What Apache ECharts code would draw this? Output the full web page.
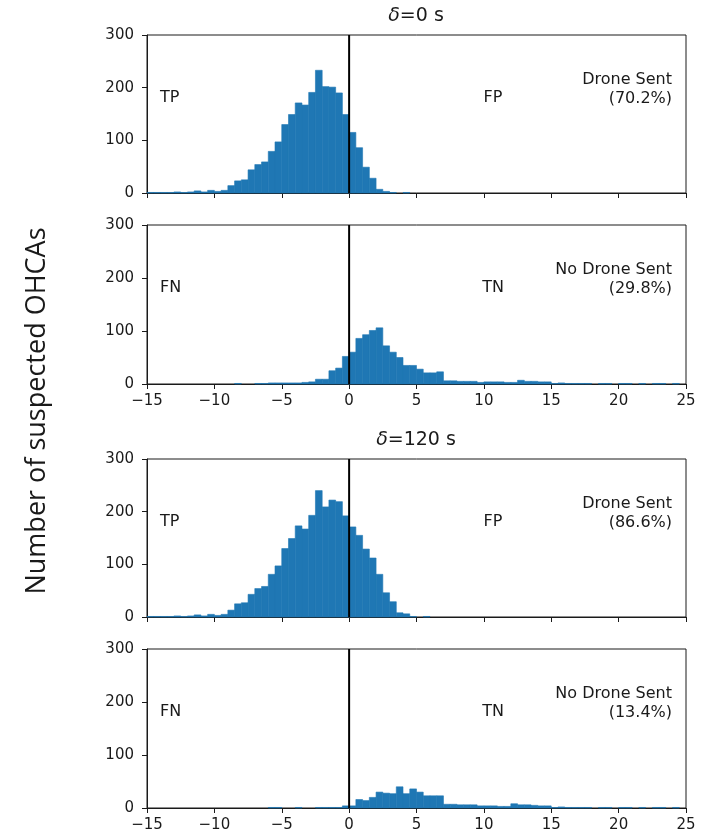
<!DOCTYPE html>
<html>
<head>
<meta charset="utf-8">
<script src="https://cdn.jsdelivr.net/npm/echarts@6.0.0/dist/echarts.min.js"></script>
<style>
  html, body { margin: 0; padding: 0; background: #fff; }
  #chart { width: 707px; height: 833px; }
</style>
</head>
<body>
<div id="chart"></div>
<script>
// histogram bins: 0.5 s wide, from -15 to 25
var BIN = 0.5;
var X_MIN = -15, X_MAX = 25;

// delta = 0 s, drone sent
var sent0 = [1,1,1,1,2,1,2,4,2,5,3,5,
  14,23,25,44,54,59,79,97,130,149,171,167,191,233,202,201,190,149,115,86,49,28,7,3,
  1,0,1,0,0,0,0,0,0,0,0,0,0,0,0,0,0,0,0,0,0,0,0,0,0,0,0,0,0,0,0,0,0,0,0,0,0,0,0,0,0,0,0,0];
// delta = 0 s, no drone sent
var noSent0 = [0,0,0,0,0,0,0,0,0,0,0,0,
  0,1,0,0,1,1,2,2,2,2,2,3,
  4,9,9,25,30,52,60,86,93,101,106,72,60,50,35,35,28,21,21,23,
  6,6,5,5,5,3,4,4,4,3,3,7,5,5,4,4,
  1,2,1,1,1,1,0,1,1,0,1,1,0,1,0,1,1,0,1,0];
// delta = 120 s, drone sent
var sent120 = [1,1,1,1,2,1,2,4,2,5,3,5,
  13,25,27,43,54,58,81,97,130,149,173,167,193,240,209,222,219,192,171,155,129,112,81,46,29,8,6,
  1,0,1,0,0,0,0,0,0,0,0,0,0,0,0,0,0,0,0,0,0,0,0,0,0,0,0,0,0,0,0,0,0,0,0,0,0,0,0,0,0];
// delta = 120 s, no drone sent
var noSent120 = [0,0,0,0,0,0,0,0,0,0,0,0,0,0,0,0,0,0,1,1,0,0,1,0,0,1,1,1,1,
  4,4,16,14,20,30,28,27,40,27,36,30,23,23,23,7,7,6,6,6,4,4,4,3,3,8,6,6,5,4,4,
  1,2,1,1,1,1,0,1,1,0,1,1,0,1,0,1,1,0,1,0];

var panels = [
  { counts: sent0, left: "TP", mid: "FP", right: "Drone Sent", pct: "(70.2%)", title: "0 s" },
  { counts: noSent0, left: "FN", mid: "TN", right: "No Drone Sent", pct: "(29.8%)" },
  { counts: sent120, left: "TP", mid: "FP", right: "Drone Sent", pct: "(86.6%)", title: "120 s" },
  { counts: noSent120, left: "FN", mid: "TN", right: "No Drone Sent", pct: "(13.4%)" }
];

var gridTops = [35, 225, 459, 649];
var gridHeights = [158, 159, 158, 159];
var GRID_LEFT = 147, GRID_W = 539;
var FONT = "DejaVu Sans";
var INK = "#1a1a1a";
var BLUE = "#1f77b4";

function renderBin(params, api) {
  var x0 = api.value(0);
  var n = api.value(1);
  if (!n) return;
  var p0 = api.coord([x0, 0]);
  var p1 = api.coord([x0 + BIN, n]);
  return {
    type: "rect",
    shape: { x: p0[0], y: p1[1], width: p1[0] - p0[0], height: p0[1] - p1[1] },
    style: { fill: BLUE, stroke: BLUE, lineWidth: 0.6 }
  };
}

var grids = [], xAxes = [], yAxes = [], series = [], graphics = [];

panels.forEach(function (p, k) {
  var top = gridTops[k];
  grids.push({
    left: GRID_LEFT, width: GRID_W, top: top, height: gridHeights[k],
    show: true, borderColor: INK, borderWidth: 1, backgroundColor: "transparent"
  });
  xAxes.push({
    type: "value", gridIndex: k, min: X_MIN, max: X_MAX, interval: 5,
    axisLine: { show: true, onZero: false, lineStyle: { color: INK, width: 1 } },
    axisTick: { show: true, length: 5, lineStyle: { color: INK } },
    axisLabel: {
      show: k % 2 === 1, fontFamily: FONT, fontSize: 15, color: INK, margin: 10,
      formatter: function (v) { return String(v).replace("-", "\u2212"); }
    },
    splitLine: { show: false }
  });
  yAxes.push({
    type: "value", gridIndex: k, min: 0, max: 300, interval: 100,
    axisLine: { show: true, onZero: false, lineStyle: { color: INK, width: 1 } },
    axisTick: { show: true, length: 5, lineStyle: { color: INK } },
    axisLabel: { fontFamily: FONT, fontSize: 15, color: INK, margin: 13 },
    splitLine: { show: false }
  });

  var data = p.counts.map(function (c, i) { return [X_MIN + i * BIN, c]; });
  series.push({
    type: "custom", xAxisIndex: k, yAxisIndex: k,
    renderItem: renderBin, data: data, encode: { x: 0, y: 1 }, silent: true
  });
  series.push({
    type: "line", xAxisIndex: k, yAxisIndex: k,
    data: [[0, 0], [0, 300]], symbol: "none", silent: true, z: 5,
    lineStyle: { color: "#000", width: 2 }
  });

  // panel annotations
  var ts = { fontFamily: FONT, fontSize: 16, fill: INK };
  graphics.push({ type: "text", x: 160, y: top + 63,
    style: Object.assign({ text: p.left, textAlign: "left", textVerticalAlign: "middle" }, ts) });
  graphics.push({ type: "text", x: 493, y: top + 63,
    style: Object.assign({ text: p.mid, textAlign: "center", textVerticalAlign: "middle" }, ts) });
  graphics.push({ type: "text", x: 672, y: top + 45,
    style: Object.assign({ text: p.right, textAlign: "right", textVerticalAlign: "middle" }, ts) });
  graphics.push({ type: "text", x: 672, y: top + 64,
    style: Object.assign({ text: p.pct, textAlign: "right", textVerticalAlign: "middle" }, ts) });

  if (p.title) {
    graphics.push({ type: "text", x: 416, y: top - 19,
      style: {
        text: "{i|\u03b4}=" + p.title, textAlign: "center", textVerticalAlign: "middle",
        fontFamily: FONT, fontSize: 19, fill: INK,
        rich: { i: { fontFamily: FONT, fontSize: 19, fontStyle: "italic", fill: INK } }
      } });
  }
});

// shared y label
graphics.push({
  type: "text", x: 37, y: 411, rotation: Math.PI / 2,
  style: { text: "Number of suspected OHCAs", textAlign: "center", textVerticalAlign: "middle",
    fontFamily: "Open Sans", fontSize: 27, fill: INK }
});

var chart = echarts.init(document.getElementById("chart"), null, { renderer: "canvas" });
chart.setOption({
  animation: false,
  backgroundColor: "#fff",
  grid: grids,
  xAxis: xAxes,
  yAxis: yAxes,
  series: series,
  graphic: graphics
});
</script>
</body>
</html>
